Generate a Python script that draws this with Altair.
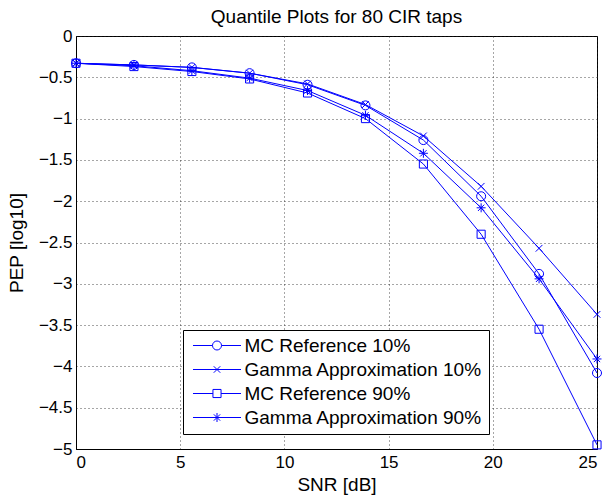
import altair as alt
import pandas as pd

# ---- data ----
snr = [0, 2.78, 5.56, 8.33, 11.11, 13.89, 16.67, 19.44, 22.22, 25]
mc_ref_10 = [-0.33, -0.35, -0.38, -0.45, -0.59, -0.84, -1.26, -1.94, -2.88, -4.08]
gamma_10 = [-0.33, -0.35, -0.38, -0.45, -0.58, -0.83, -1.21, -1.82, -2.57, -3.37]
mc_ref_90 = [-0.33, -0.37, -0.43, -0.52, -0.69, -1.00, -1.55, -2.40, -3.55, -4.95]
gamma_90 = [-0.33, -0.36, -0.42, -0.51, -0.66, -0.96, -1.42, -2.08, -2.94, -3.91]

series_names = ["MC Reference 10%", "Gamma Approximation 10%",
                "MC Reference 90%", "Gamma Approximation 90%"]
series_values = [mc_ref_10, gamma_10, mc_ref_90, gamma_90]

x_ticks = [0, 5, 10, 15, 20, 25]
y_ticks = [0, -0.5, -1, -1.5, -2, -2.5, -3, -3.5, -4, -4.5, -5]

rows = []
for name, vals in zip(series_names, series_values):
    for x, y in zip(snr, vals):
        rows.append({"series": name, "snr": x, "pep": y})
df = pd.DataFrame(rows)

BLUE = "#0000ff"
FONT = "Liberation Sans"

# plot markers (o, x, square, *)
marker_paths = [
    "circle",
    "M-0.75,-0.75L0.75,0.75M-0.75,0.75L0.75,-0.75",
    "M-0.9,-0.9L0.9,-0.9L0.9,0.9L-0.9,0.9Z",
    "M0,-1L0,1M-1,0L1,0M-0.7,-0.7L0.7,0.7M-0.7,0.7L0.7,-0.7",
]
# legend symbols: line with marker
L = 2.667
legend_paths = [
    f"M-{L},0L-0.5,0M0.5,0L{L},0M0.5,0A0.5,0.5,0,1,1,-0.5,0A0.5,0.5,0,1,1,0.5,0",
    f"M-{L},0L{L},0M-0.36,-0.36L0.36,0.36M-0.36,0.36L0.36,-0.36",
    f"M-{L},0L-0.45,0M0.45,0L{L},0M-0.45,-0.45L0.45,-0.45L0.45,0.45L-0.45,0.45Z",
    f"M-{L},0L{L},0M0,-0.5L0,0.5M-0.35,-0.35L0.35,0.35M-0.35,0.35L0.35,-0.35",
]

W, H = 521, 413

x_enc = alt.X(
    "snr:Q",
    scale=alt.Scale(domain=[0, 25], nice=False, zero=False),
    axis=alt.Axis(values=x_ticks, format="~g", title="SNR [dB]",
                  labelPadding=5, titleY=26.5, titleBaseline="top"),
)
y_enc = alt.Y(
    "pep:Q",
    scale=alt.Scale(domain=[-5, 0], nice=False, zero=False),
    axis=alt.Axis(values=y_ticks, format="~g", title="PEP [log10]",
                  labelPadding=4, titleX=-60, titleY=H / 2,
                  titleBaseline="middle", titleAngle=270),
)

lines = alt.Chart(df).mark_line(color=BLUE, strokeWidth=1).encode(
    x=x_enc, y=y_enc, detail="series:N"
)

points = alt.Chart(df).mark_point(
    color=BLUE, filled=False, size=81, strokeWidth=1, opacity=1
).encode(
    x="snr:Q", y="pep:Q",
    shape=alt.Shape("series:N",
                    scale=alt.Scale(domain=series_names, range=marker_paths),
                    legend=None),
)

# legend-only layer: no rows drawn, legend built from the explicit domain
legend_layer = alt.Chart(df).transform_filter("datum.snr < -100").mark_point(
    color=BLUE, filled=False, size=324, strokeWidth=1, opacity=1,
).encode(
    x="snr:Q", y="pep:Q",
    shape=alt.Shape(
        "series:N",
        scale=alt.Scale(domain=series_names, range=legend_paths),
        title=None,
        legend=alt.Legend(
            orient="none", legendX=107, legendY=294,
            symbolSize=324, symbolOffset=18.5, labelOffset=18,
            symbolStrokeWidth=1, symbolStrokeColor=BLUE,
            labelFont=FONT, labelFontSize=19, labelColor="black",
            labelLimit=400,
            strokeColor="black", fillColor="white", padding=6,
            rowPadding=4, cornerRadius=0,
        ),
    ),
)

chart = alt.layer(lines, points, legend_layer).resolve_scale(
    shape="independent"
).properties(
    width=W, height=H,
    background="white",
    title=alt.TitleParams("Quantile Plots for 80 CIR taps", anchor="middle",
                          font=FONT, fontSize=19, fontWeight="normal",
                          color="black", offset=0, baseline="top"),
    autosize=alt.AutoSizeParams(type="none"),
    padding={"left": 76, "top": 36, "right": 11, "bottom": 48},
).configure_view(
    stroke="black", strokeWidth=1
).configure_axis(
    labelFont=FONT, labelFontSize=17, labelColor="black",
    titleFont=FONT, titleFontSize=19, titleFontWeight="normal", titleColor="black",
    domainColor="black", domainWidth=1, ticks=False, tickSize=0,
    grid=True, gridColor="#222222", gridDash=[1, 3], gridWidth=1, gridOpacity=0.8,
)

chart.save("out.html", embed_options={"renderer": "svg", "actions": False})
